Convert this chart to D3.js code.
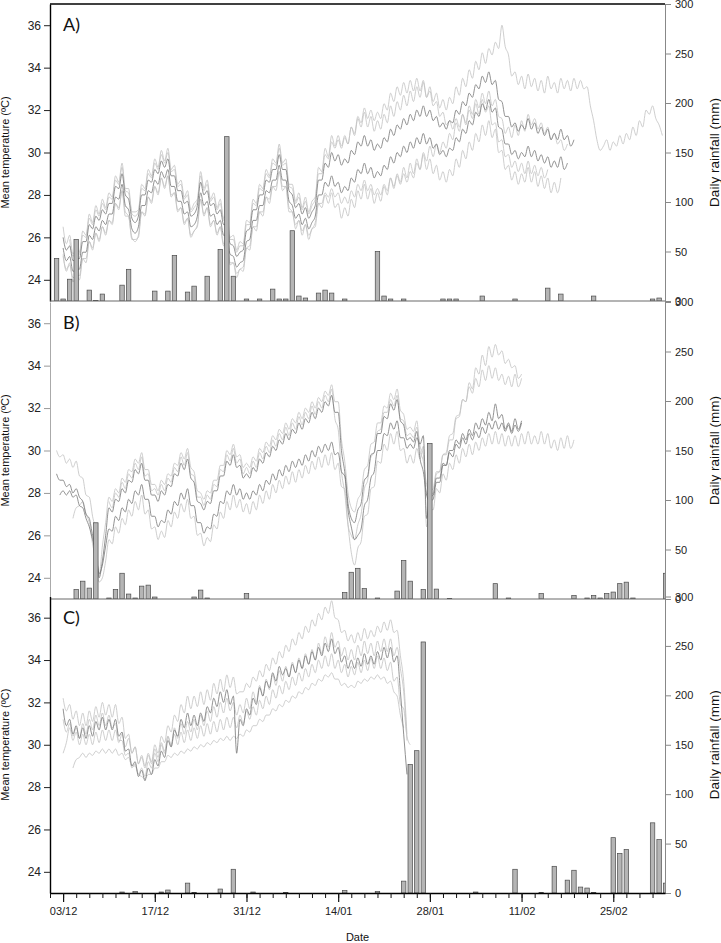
<!DOCTYPE html>
<html>
<head>
<meta charset="utf-8">
<script src="https://cdn.jsdelivr.net/npm/d3@7"></script>
<style>
  body { margin: 0; background: #fff; }
  svg { display: block; }
</style>
</head>
<body>
<div id="chart"></div>
<script>
// Mean temperature (deg C) traces, one value every half day, starting at the given day
// (day 0 = 01/12). Rainfall bars: day index + mm.

// ---- panel A ----
const tA1_start = 2;
const tA1 = [26.5,25.7, 26.1,25.2, 25.5,25.3, 26.3,26.1, 27.1,26.7, 27.5,27.1, 27.8,27.4, 28.1,27.9, 28.9,28.6, 29.5,28.3, 28.3,27.2, 27.2,27.3, 28.5,28.3, 29.2,28.9, 29.7,29.3, 30.1,29.6, 30.2,29.2, 29.4,28.5, 28.7,27.9, 28.2,27.3, 27.6,27.8, 29.1,28.3, 28.7,27.8, 28.1,27.4, 27.8,26.9, 27.1,26.0, 26.1,25.4, 25.8,25.7, 26.8,26.7, 27.8,27.6, 28.5,28.3, 29.2,28.9, 29.7,29.5, 30.4,29.5, 29.7,28.5, 28.5,27.7, 28.1,27.4, 27.9,27.2, 27.7,27.9, 29.3,29.1, 30.2,29.8, 30.8,30.3, 30.8,30.3, 30.8,30.4, 31.2,30.8, 31.6,31.2, 31.9,31.2, 31.7,31.0, 31.5,31.1, 31.8,31.4, 32.2,31.7, 32.4,32.0, 32.7,32.2, 32.9,32.4, 33.1,32.6, 33.3,32.6, 33.1,32.4, 32.8,32.1, 32.5,32.0, 32.6,32.3, 33.1,32.7, 33.5,33.1, 33.9,33.5, 34.3,33.9, 34.7,34.2, 34.9,34.6, 35.2,34.9, 36.0,35.0, 34.6,33.6, 33.8,33.2, 33.6,33.0, 33.7,33.1, 33.5,32.9, 33.4,32.8, 33.6,33.0, 33.3,32.8, 33.5,33.0, 33.4,32.9, 33.5,33.0, 33.4,33.0, 33.1,32.2, 31.5,30.6, 30.1,30.3, 30.6,30.1, 30.5,30.3, 30.8,30.4, 30.9,30.6, 31.2,30.8, 31.5,31.2, 32.0,31.8, 32.2,31.6, 31.3,30.8];
const tA2_start = 2;
const tA2 = [26.0,25.4, 25.6,24.9, 25.0,25.0, 25.8,25.8, 26.6,26.4, 27.0,26.8, 27.3,27.1, 27.6,27.6, 28.4,28.3, 29.0,28.0, 27.8,26.9, 26.7,27.0, 28.0,28.0, 28.7,28.6, 29.2,29.0, 29.6,29.3, 29.7,28.9, 28.9,28.2, 28.2,27.6, 27.7,27.0, 27.1,27.5, 28.6,28.0, 28.2,27.5, 27.6,27.1, 27.3,26.6, 26.6,25.7, 25.6,25.1, 25.3,25.4, 26.3,26.4, 27.3,27.3, 28.0,28.0, 28.7,28.6, 29.2,29.2, 29.9,29.2, 29.2,28.2, 28.0,27.4, 27.6,27.1, 27.4,26.9, 27.2,27.5, 28.7,28.7, 29.5,29.3, 30.0,29.6, 29.9,29.4, 29.7,29.5, 30.1,29.9, 30.5,30.3, 30.8,30.3, 30.6,30.1, 30.4,30.2, 30.7,30.5, 31.1,30.8, 31.3,31.1, 31.6,31.3, 31.8,31.5, 32.0,31.7, 32.2,31.7, 32.0,31.5, 31.7,31.2, 31.4,31.1, 31.5,31.4, 32.0,31.8, 32.4,32.2, 32.8,32.6, 33.2,33.0, 33.6,33.3, 33.8,33.2, 33.4,32.5, 32.4,31.7, 31.7,31.2, 31.4,31.0, 31.3,31.1, 31.6,31.1, 31.4,30.9, 31.2,30.8, 31.1,30.6, 30.9,30.6, 31.1,30.6, 30.8,30.3, 30.6];
const tA3_start = 2;
const tA3 = [25.5,24.9, 25.1,24.4, 24.5,24.5, 25.3,25.3, 26.1,25.9, 26.5,26.3, 26.8,26.6, 27.1,27.1, 27.9,27.8, 28.5,27.5, 27.3,26.4, 26.2,26.5, 27.5,27.5, 28.2,28.1, 28.7,28.5, 29.1,28.8, 29.2,28.4, 28.4,27.7, 27.7,27.1, 27.2,26.5, 26.6,27.0, 28.1,27.5, 27.7,27.0, 27.1,26.6, 26.8,26.1, 26.1,25.2, 25.1,24.6, 24.8,24.9, 25.8,25.9, 26.8,26.8, 27.5,27.5, 28.2,28.1, 28.7,28.7, 29.4,28.7, 28.7,27.7, 27.5,26.9, 27.1,26.6, 26.9,26.4, 26.7,27.0, 28.0,28.0, 28.6,28.4, 28.9,28.4, 28.6,28.1, 28.4,28.2, 28.8,28.6, 29.2,29.0, 29.5,29.0, 29.3,28.8, 29.1,28.9, 29.4,29.2, 29.8,29.5, 30.0,29.8, 30.3,30.0, 30.5,30.2, 30.7,30.4, 30.9,30.4, 30.7,30.2, 30.4,29.9, 30.1,29.8, 30.2,30.1, 30.7,30.5, 31.1,30.9, 31.5,31.3, 31.9,31.7, 32.3,32.0, 32.5,31.9, 32.1,31.2, 31.1,30.4, 30.4,29.9, 30.1,29.7, 30.0,29.8, 30.3,29.8, 30.1,29.6, 29.9,29.5, 29.8,29.3, 29.6,29.3, 29.8,29.2, 29.5];
const tA4_start = 2;
const tA4 = [25.2,24.4, 24.8,23.9, 24.2,24.0, 25.0,24.8, 25.8,25.4, 26.2,25.8, 26.5,26.1, 26.8,26.6, 27.6,27.3, 28.2,27.0, 27.0,25.9, 25.9,26.0, 27.2,27.0, 27.9,27.6, 28.4,28.0, 28.8,28.3, 28.9,27.9, 28.1,27.2, 27.4,26.6, 26.9,26.0, 26.3,26.5, 27.8,27.0, 27.4,26.5, 26.8,26.1, 26.5,25.6, 25.8,24.7, 24.8,24.1, 24.5,24.4, 25.5,25.4, 26.5,26.3, 27.2,27.0, 27.9,27.6, 28.4,28.2, 29.1,28.2, 28.4,27.2, 27.2,26.4, 26.8,26.1, 26.6,25.9, 26.4,26.5, 27.6,27.4, 28.0,27.6, 28.1,27.4, 27.6,26.9, 27.4,27.0, 27.8,27.4, 28.2,27.8, 28.5,27.8, 28.3,27.6, 28.1,27.7, 28.4,28.0, 28.8,28.3, 29.0,28.6, 29.3,28.8, 29.5,29.0, 29.7,29.2, 29.9,29.2, 29.7,29.0, 29.4,28.7, 29.1,28.6, 29.2,28.9, 29.7,29.3, 30.1,29.7, 30.5,30.1, 30.9,30.5, 31.3,30.8, 31.5,30.7, 31.1,30.0, 30.1,29.2, 29.4,28.7, 29.1,28.5, 29.0,28.6, 29.3,28.6, 29.1,28.4, 28.9,28.3, 28.8,28.1, 28.6,28.1, 28.8];
const tA5_start = 3;
const tA5 = [25.9,25.1, 25.3,25.2, 26.1,26.0, 26.9,26.6, 27.3,27.0, 27.6,27.3, 27.9,27.8, 28.7,28.5, 29.3,28.2, 28.1,27.1, 27.0,27.2, 28.3,28.2, 29.0,28.8, 29.5,29.2, 29.9,29.5, 30.0,29.1, 29.2,28.4, 28.5,27.8, 28.0,27.2, 27.4,27.7, 28.9,28.2, 28.5,27.7, 27.9,27.3, 27.6,26.8, 26.9,25.9, 25.9,25.3, 25.6,25.6, 26.6,26.6, 27.6,27.5, 28.3,28.2, 29.0,28.8, 29.5,29.4, 30.2,29.4, 29.5,28.4, 28.3,27.6, 27.9,27.3, 27.7,27.1, 27.5,27.8, 29.0,29.0, 29.9,29.7, 30.5,30.2, 30.6,30.2, 30.7,30.4, 31.2,30.9, 31.7,31.4, 32.1,31.6, 32.0,31.5, 31.9,31.6, 32.3,32.0, 32.8,32.4, 33.1,32.7, 33.3,32.8, 33.4,32.9, 33.5,32.9, 33.4,32.6, 32.9,32.2, 32.4,31.7, 31.9,31.3, 31.5,31.1, 31.6,31.2, 31.8,31.3, 32.0,31.6, 32.3,31.8, 32.5,31.9, 32.2,31.3, 31.4,30.5, 30.6,29.8, 29.9,29.3, 29.6,29.1, 29.5,29.0, 29.6,29.0, 29.4,28.9, 29.3,28.8, 29.2];
const tA6_start = 2;
const tA6 = [25.1,24.5, 24.7,24.1, 24.2,24.2, 25.0,25.0, 25.8,25.5, 26.2,25.9, 26.5,26.2, 26.8,26.7, 27.6,27.4, 28.2,27.2, 27.0,26.0, 25.8,26.1, 27.2,27.1, 27.9,27.7, 28.4,28.1, 28.8,28.4, 28.9,28.0, 28.1,27.3, 27.4,26.7, 26.9,26.1, 26.3,26.6, 27.8,27.1, 27.4,26.6, 26.8,26.2, 26.5,25.7, 25.8,24.8, 24.8,24.3, 24.5,24.6, 25.5,25.6, 26.5,26.5, 27.2,27.2, 27.9,27.8, 28.4,28.4, 29.1,28.4, 28.4,27.4, 27.2,26.6, 26.8,26.3, 26.6,26.1, 26.4,26.7, 27.6,27.6, 28.1,27.9, 28.3,27.9, 28.1,27.6, 27.9,27.6, 28.2,27.9, 28.5,28.2, 28.7,28.2, 28.5,28.0, 28.3,28.0, 28.5,28.2, 28.8,28.4, 28.9,28.5, 29.0,28.6, 29.1,28.8, 29.5,29.2, 30.0,29.6, 30.3,29.8, 30.4,30.0, 30.5,30.2, 30.9,30.6, 31.4,31.0, 31.8,31.4, 32.2,31.8, 32.5,32.1, 32.8,32.3, 32.9,32.2, 32.5,31.7, 31.6,30.9, 31.2,30.7, 31.3,30.8, 31.5,31.0, 31.8,31.3, 31.6,31.1, 31.4,30.9, 31.2,30.6, 30.9,30.4, 30.6,30.1, 30.4];
const rainA_day = [1,2,3,4,6,7,8,11,12,16,18,19,21,22,24,26,27,28,30,32,34,35,36,37,38,39,41,42,43,45,50,51,52,54,60,61,62,66,71,76,78,83,92,93];
const rainA_mm = [43,2,22,62,11,0.6,7,16,32,10,10,46,9,15,25,52,166,25,2,2,12,2,2,71,5,3,8,11,8,2,50,5,2,2,2,2,2,5,2,13,7,5,2,3];

// ---- panel B ----
const tB1_start = 1;
const tB1 = [30.0,29.7, 29.8,29.4, 29.6,29.2, 29.5,28.8, 28.7,27.9, 27.8,26.9, 26.1,24.1, 25.5,26.6, 27.8,27.6, 28.2,28.0, 28.7,28.5, 29.1,29.0, 29.6,29.4, 29.9,29.1, 29.1,28.4, 28.4,28.1, 28.6,28.4, 28.9,28.8, 29.4,29.3, 29.9,29.6, 30.1,29.2, 29.0,28.1, 28.0,27.7, 28.1,28.0, 28.6,28.6, 29.3,29.3, 30.0,29.8, 30.3,29.7, 29.8,29.2, 29.4,29.2, 29.7,29.5, 30.1,29.9, 30.4,30.2, 30.7,30.5, 31.0,30.8, 31.3,31.0, 31.5,31.3, 31.8,31.5, 32.0,31.8, 32.3,32.0, 32.5,32.3, 32.8,32.6, 33.1,32.3, 32.3,30.5, 29.5,28.0, 27.3,27.1, 27.7,28.0, 29.1,29.3, 30.3,30.4, 31.3,31.3, 32.1,32.0, 32.7,32.4, 32.9,31.9, 31.7,31.0, 31.1,30.9, 31.4,30.0, 29.5,28.4, 28.1,28.2, 29.0,29.0, 29.8,29.8, 30.5,30.5, 31.5,31.6, 32.4,32.3, 33.2,32.9, 33.9,33.6, 34.5,34.0, 34.9,34.4, 35.0,34.5, 34.7,34.1, 34.3,33.9, 34.0,33.4, 33.6];
const tB2_start = 1;
const tB2 = [28.9,28.6, 28.6,28.3, 28.4,28.0, 28.2,27.8, 27.6,27.0, 26.8,26.0, 25.4,24.0, 24.8,26.0, 27.3,27.1, 27.7,27.6, 28.2,28.0, 28.6,28.5, 29.1,28.9, 29.4,28.6, 28.6,27.9, 27.9,27.6, 28.1,27.9, 28.4,28.3, 28.9,28.8, 29.4,29.1, 29.6,28.7, 28.5,27.6, 27.5,27.2, 27.6,27.5, 28.1,28.1, 28.8,28.8, 29.5,29.3, 29.8,29.2, 29.3,28.7, 28.9,28.7, 29.2,29.0, 29.6,29.4, 29.9,29.7, 30.2,30.0, 30.5,30.3, 30.8,30.5, 31.0,30.8, 31.3,31.0, 31.5,31.3, 31.8,31.5, 32.0,31.8, 32.3,32.1, 32.6,31.8, 31.8,30.0, 29.0,27.5, 26.8,26.6, 27.2,27.5, 28.6,28.8, 29.8,29.9, 30.8,30.8, 31.6,31.5, 32.2,31.9, 32.4,31.4, 31.2,30.5, 30.6,30.4, 30.9,29.6, 29.0,27.9, 27.6,27.7, 28.5,28.5, 29.3,29.3, 30.0,30.0, 30.5,30.3, 30.8,30.5, 31.0,30.7, 31.3,31.0, 31.5,31.2, 31.8,31.4, 32.2,31.5, 31.7,31.0, 31.3,30.9, 31.5,31.0, 31.4];
const tB3_start = 1.5;
const tB3 = [27.9, 28.1,27.9, 28.1,27.8, 27.9,27.4, 27.3,26.8, 26.4,25.8, 25.2,24.2, 24.6,25.5, 26.3,26.2, 26.9,26.7, 27.3,27.1, 27.7,27.5, 28.1,27.9, 28.4,27.7, 27.7,26.9, 26.9,26.4, 26.7,26.6, 27.2,27.0, 27.6,27.4, 28.0,27.7, 28.2,27.4, 27.4,26.6, 26.6,26.1, 26.4,26.3, 27.0,26.9, 27.6,27.5, 28.1,27.9, 28.4,27.9, 28.2,27.7, 28.0,27.7, 28.1,27.9, 28.4,28.1, 28.6,28.4, 28.9,28.6, 29.1,28.8, 29.3,29.0, 29.5,29.2, 29.6,29.3, 29.8,29.5, 30.0,29.7, 30.2,29.9, 30.3,30.0, 30.4,29.8, 29.9,29.0, 28.8,27.2, 26.4,25.8, 26.0,26.3, 27.4,27.7, 28.7,29.0, 30.0,30.0, 30.8,30.7, 31.3,31.0, 31.4,30.6, 30.6,30.1, 30.3,30.1, 30.6,30.3, 30.7,26.8, 27.8,27.9, 28.7,28.7, 29.4,29.3, 29.9,29.7, 30.3,30.1, 30.6,30.3, 30.8,30.5, 30.9,30.6, 31.1,30.8, 31.3,31.0, 31.4,31.0, 31.3,30.9, 31.2,30.8, 31.2,30.9, 31.3];
const tB4_start = 3.5;
const tB4 = [26.8, 27.3,27.4, 27.6,27.0, 26.6,25.6, 24.8,23.8, 24.0,24.8, 25.8,25.6, 26.4,26.1, 26.8,26.5, 27.2,26.9, 27.6,27.2, 27.9,27.0, 27.2,26.3, 26.4,25.8, 26.2,25.9, 26.7,26.4, 27.1,26.8, 27.5,27.1, 27.7,26.8, 26.9,26.0, 26.1,25.5, 25.9,25.7, 26.5,26.3, 27.1,26.8, 27.6,27.2, 27.9,27.3, 27.7,27.1, 27.5,27.0, 27.6,27.2, 27.9,27.5, 28.1,27.7, 28.4,28.0, 28.6,28.2, 28.8,28.4, 29.0,28.5, 29.1,28.7, 29.3,28.9, 29.5,29.1, 29.7,29.2, 29.8,29.3, 29.9,29.1, 29.4,28.3, 28.2,26.5, 25.2,24.6, 25.4,25.7, 26.9,27.0, 28.2,28.3, 29.5,29.4, 30.3,30.0, 30.8,30.3, 30.9,30.0, 30.1,29.4, 29.8,29.4, 30.1,29.6, 30.2,26.4, 27.3,27.2, 28.2,28.0, 28.9,28.6, 29.4,29.1, 29.8,29.4, 30.1,29.7, 30.3,29.8, 30.4,30.0, 30.6,30.2, 30.8,30.3, 30.9,30.3, 30.8,30.2, 30.7,30.2, 30.7,30.2, 30.8,30.3, 30.9,30.3, 30.7,30.3, 30.9,30.3, 30.8,30.1, 30.5,30.0, 30.6,30.1, 30.7,30.1, 30.5];
const tB5_start = 9;
const tB5 = [27.6,27.3, 28.0,27.8, 28.5,28.2, 28.9,28.7, 29.4,29.1, 29.7,28.8, 28.9,28.1, 28.2,27.9, 28.4,28.1, 28.7,28.5, 29.2,29.0, 29.7,29.3, 29.9,28.9, 28.8,27.8, 27.8,27.4, 27.9,27.7, 28.4,28.3, 29.1,29.0, 29.8,29.5, 30.1,29.4, 29.6,28.9, 29.2,28.9, 29.5,29.2, 29.9,29.6, 30.2,29.9, 30.5,30.2, 30.8,30.5, 31.1,30.7, 31.3,31.0, 31.6,31.2, 31.8,31.5, 32.1,31.7, 32.3,32.0, 32.6,32.3, 32.9,31.5, 31.0,29.0, 28.0,26.5, 26.0,25.8, 26.5,27.0, 28.2,28.6, 29.7,29.9, 30.9,31.0, 31.8,31.8, 32.4,32.1, 32.6,31.5, 31.4,30.7, 30.8,30.6, 31.1,30.2, 29.8,28.0, 27.9,28.0, 28.9,29.0, 29.8,29.9, 30.7,30.8, 31.6,31.7, 32.4,32.3, 33.0,32.7, 33.4,33.0, 33.8,33.3, 34.0,33.4, 33.9,33.3, 33.6,33.1, 33.5,33.0, 33.6,33.0, 33.4];
const rainB_day = [4,5,6,7,9,10,11,12,13,14,15,16,22,23,24,30,45,46,47,48,50,53,54,55,57,58,59,61,68,70,75,80,82,83,84,85,86,87,88,89,94];
const rainB_mm = [9.5,18,11,77,1,9.5,26,5,1,13,14,2,2,9,1,5.5,6.5,27,31,10.5,1,8,39,18,9.5,157,10,0.5,15.5,1,5.5,3.5,1,3.5,1,5.5,7,15.5,17,1,26];

// ---- panel C ----
const tC1_start = 2;
const tC1 = [32.2,31.6, 31.9,31.2, 31.6,30.9, 31.5,30.9, 31.6,31.1, 31.8,31.3, 32.0,31.4, 31.9,31.3, 31.9,31.0, 31.3,30.3, 30.5,29.6, 29.9,29.1, 29.5,29.0, 29.6,29.2, 30.0,29.6, 30.4,30.1, 30.9,30.6, 31.4,31.1, 31.9,31.5, 32.3,31.7, 32.3,31.8, 32.5,31.9, 32.6,32.1, 32.9,32.4, 33.1,32.5, 33.3,32.7, 33.2,32.4, 32.5,32.5, 32.9,32.7, 33.2,33.0, 33.5,33.2, 33.8,33.5, 34.1,33.8, 34.4,34.1, 34.7,34.4, 35.0,34.7, 35.3,35.0, 35.6,35.3, 35.9,35.6, 36.2,35.9, 36.5,36.2, 36.8,36.0, 35.9,35.3, 35.4,34.9, 35.2,34.8, 35.3,34.9, 35.5,35.0, 35.4,35.1, 35.6,35.3, 35.8,35.4, 35.9,35.3, 35.4,34.2, 33.0,30.5];
const tC2_start = 2;
const tC2 = [31.7,30.9, 31.2,30.5, 30.9,30.3, 30.8,30.3, 30.9,30.4, 31.1,30.7, 31.3,30.7, 31.2,30.7, 31.2,30.4, 30.6,29.7, 29.8,29.0, 29.2,28.5, 28.8,28.3, 28.9,28.6, 29.3,29.0, 29.7,29.4, 30.2,29.9, 30.7,30.4, 31.2,30.8, 31.5,30.9, 31.4,30.9, 31.5,31.1, 31.8,31.5, 32.2,31.8, 32.5,32.0, 32.6,31.9, 32.3,29.6, 31.2,30.9, 31.7,31.4, 32.2,31.9, 32.7,32.3, 33.0,32.7, 33.4,33.0, 33.7,33.3, 33.6,33.2, 33.8,33.4, 34.0,33.6, 34.2,33.8, 34.4,34.0, 34.6,34.2, 34.8,34.4, 35.0,34.3, 34.6,33.9, 34.2,33.6, 34.0,33.6, 34.1,33.7, 34.3,33.8, 34.2,33.8, 34.4,34.0, 34.6,34.1, 34.6,33.9, 34.2,32.5, 30.5,28.6];
const tC3_start = 2;
const tC3 = [29.6,30.1, 30.8,30.2, 30.6,30.0, 30.5,30.0, 30.5,30.0, 30.6,30.1, 30.7,30.2, 30.7,30.2, 30.7,30.1, 30.5,29.9, 30.3,29.6, 29.9,29.1, 29.4,28.9, 29.5,29.1, 29.8,29.4, 30.1,29.7, 30.4,29.9, 30.5,30.0, 30.6,30.1, 30.7,30.2, 30.8,30.3, 30.9,30.4, 31.0,30.5, 31.1,30.6, 31.2,30.7, 31.3,30.8, 31.3,30.8, 31.4,31.0, 31.6,31.2, 31.8,31.4, 32.1,31.7, 32.3,31.9, 32.6,32.2, 32.8,32.4, 33.0,32.6, 33.2,32.8, 33.4,33.0, 33.6,33.2, 33.8,33.4, 34.0,33.6, 34.2,33.7, 34.3,33.6, 34.0,33.4, 33.8,33.2, 33.7,33.3, 33.9,33.4, 34.0,33.5, 34.1,33.6, 34.2,33.6, 34.1,33.5, 33.9,33.0, 33.2,31.9, 31.7,30.4, 30.0];
const tC4_start = 3.5;
const tC4 = [28.9, 29.3,29.4, 29.6,29.4, 29.6,29.5, 29.7,29.6, 29.8,29.6, 29.8,29.6, 29.8,29.5, 29.6,29.3, 29.4,29.0, 29.0,28.6, 28.5,28.4, 28.6,28.6, 28.9,28.9, 29.2,29.2, 29.5,29.4, 29.6,29.5, 29.7,29.6, 29.8,29.7, 29.9,29.8, 30.0,29.9, 30.1,30.0, 30.2,30.1, 30.3,30.2, 30.4,30.2, 30.4,30.3, 30.5,30.4, 30.7,30.6, 30.9,30.9, 31.2,31.1, 31.4,31.4, 31.7,31.6, 31.9,31.8, 32.1,32.0, 32.3,32.2, 32.5,32.4, 32.7,32.6, 32.9,32.8, 33.1,33.0, 33.3,33.2, 33.4,33.1, 33.1,32.8, 32.9,32.7, 32.8,32.7, 33.0,32.9, 33.1,33.0, 33.2,33.1, 33.3,33.1, 33.2,32.9, 33.0,32.5, 32.3,31.4, 30.8];
const tC5_start = 2;
const tC5 = [31.2,30.6, 31.0,30.4, 30.8,30.3, 31.0,30.5, 31.2,30.7, 31.4,30.9, 31.5,30.9, 31.4,30.8, 31.0,30.2, 30.2,29.5, 29.6,28.9, 29.1,28.6, 28.9,28.5, 29.2,28.9, 29.6,29.2, 30.0,29.6, 30.4,30.0, 30.8,30.3, 31.0,30.5, 31.1,30.6, 31.2,30.7, 31.4,30.9, 31.6,31.1, 31.8,31.3, 32.0,31.5, 32.2,31.6, 32.0,31.4, 31.9,31.5, 32.2,31.7, 32.5,32.0, 32.8,32.3, 33.1,32.6, 33.3,32.8, 33.5,33.0, 33.7,33.2, 33.9,33.4, 34.1,33.6, 34.3,33.8, 34.5,34.0, 34.8,34.3, 35.1,34.6, 35.3,34.6, 34.9,34.2, 34.6,34.0, 34.5,34.0, 34.7,34.2, 34.9,34.3, 34.8,34.2, 34.9,34.4, 35.0,34.4, 35.0,34.2, 34.6,33.6, 32.5,30.2];
const rainC_day = [11,13,17,18,21,22,26,28,31,36,45,50,54,55,56,57,65,71,75,77,79,80,81,82,83,86,87,88,92,93,94];
const rainC_mm = [1,1.5,1,3,10,0.5,4,24,1,0.5,2.5,1.5,12,130,144,254,1,24,0.5,27,13,23,6,5,0.5,56,40,44,71,54,10];

const tempTicks = [24, 26, 28, 30, 32, 34, 36];
const rainTicks = [0, 50, 100, 150, 200, 250, 300];

// ---- layout ----
const W = 721, H = 943;
const left = 50, right = 665;
const day0 = new Date(2014, 11, 1);
const toDate = d => new Date(day0.getTime() + d * 864e5);

const x = d3.scaleTime().domain([toDate(0), toDate(93.9)]).range([left, right]);

const svg = d3.select("#chart").append("svg")
  .attr("width", W).attr("height", H)
  .style("font-family", "'Liberation Sans', Arial, sans-serif");

const panels = [
  { label: "A)", top: 4, bottom: 301, frame: "#000",
    lines: [[tA1_start, tA1, 0], [tA4_start, tA4, 0], [tA5_start, tA5, 0], [tA6_start, tA6, 0],
            [tA2_start, tA2, 1], [tA3_start, tA3, 1]],
    rainDay: rainA_day, rainMm: rainA_mm },
  { label: "B)", top: 302, bottom: 599, frame: "#aaa",
    lines: [[tB1_start, tB1, 0], [tB4_start, tB4, 0], [tB5_start, tB5, 0],
            [tB2_start, tB2, 1], [tB3_start, tB3, 1]],
    rainDay: rainB_day, rainMm: rainB_mm },
  { label: "C)", top: 596.5, bottom: 893, frame: "#000",
    lines: [[tC1_start, tC1, 0], [tC3_start, tC3, 0], [tC4_start, tC4, 0], [tC5_start, tC5, 0],
            [tC2_start, tC2, 1]],
    rainDay: rainC_day, rainMm: rainC_mm }
];

const barW = x(toDate(0.68)) - x(toDate(0));

panels.forEach((p, k) => {
  const yT = d3.scaleLinear().domain([23, 37]).range([p.bottom, p.top]);
  const yR = d3.scaleLinear().domain([0, 300]).range([p.bottom, p.top]);
  const g = svg.append("g");

  g.append("clipPath").attr("id", "clip" + k)
    .append("rect")
    .attr("x", left).attr("y", p.top)
    .attr("width", right - left).attr("height", p.bottom - p.top);

  const plot = g.append("g").attr("clip-path", `url(#clip${k})`);

  // temperature traces
  const line = d3.line().curve(d3.curveMonotoneX).x(d => x(d.t)).y(d => yT(d.v));
  p.lines.forEach(([start, vals, dark]) => {
    plot.append("path")
      .datum(vals.map((v, i) => ({ t: toDate(start + i * 0.5), v })))
      .attr("fill", "none")
      .attr("stroke", dark ? "#767676" : "#c2c2c2")
      .attr("stroke-width", 0.8)
      .attr("d", line);
  });

  // rainfall bars
  plot.selectAll("rect.bar")
    .data(p.rainDay.map((d, i) => ({ t: toDate(d), v: p.rainMm[i] })))
    .join("rect")
    .attr("class", "bar")
    .attr("x", d => x(d.t) - barW / 2)
    .attr("y", d => yR(d.v))
    .attr("width", barW)
    .attr("height", d => yR(0) - yR(d.v))
    .attr("fill", "#b5b5b5")
    .attr("stroke", "#4a4a4a")
    .attr("stroke-width", 0.7);

  // left axis
  g.append("g")
    .attr("transform", `translate(${left},0)`)
    .call(d3.axisLeft(yT).tickValues(tempTicks).tickSize(6).tickSizeOuter(0).tickPadding(3))
    .call(a => {
      a.attr("font-family", null).attr("font-size", 12);
      a.select(".domain").attr("stroke", p.frame).attr("stroke-width", p.frame === "#000" ? 1.4 : 1);
      a.selectAll(".tick line").attr("stroke", p.frame === "#000" ? "#222" : "#999");
      a.selectAll(".tick text").attr("fill", "#222");
    });

  // right axis
  g.append("g")
    .attr("transform", `translate(${right},0)`)
    .call(d3.axisRight(yR).tickValues(rainTicks).tickSize(6).tickSizeOuter(0).tickPadding(4))
    .call(a => {
      a.attr("font-family", null).attr("font-size", 11);
      a.select(".domain").attr("stroke", "#888");
      a.selectAll(".tick line").attr("stroke", "#888");
      a.selectAll(".tick text").attr("fill", "#222");
    });

  if (k === 0) {
    g.append("line").attr("x1", left).attr("x2", right)
      .attr("y1", p.top).attr("y2", p.top)
      .attr("stroke", "#000").attr("stroke-width", 1.4);
  }
  if (k < 2) {
    g.append("line").attr("x1", left).attr("x2", right)
      .attr("y1", p.bottom).attr("y2", p.bottom)
      .attr("stroke", "#6a6a6a").attr("stroke-width", 1.2);
  }

  // titles
  const mid = (p.top + p.bottom) / 2;
  g.append("text")
    .attr("transform", `translate(8.5,${mid}) rotate(-90)`)
    .attr("text-anchor", "middle")
    .attr("font-size", 11).attr("fill", "#111")
    .text("Mean temperature (ºC)");
  g.append("text")
    .attr("transform", `translate(719,${mid}) rotate(-90)`)
    .attr("text-anchor", "middle")
    .attr("font-size", 13.5).attr("fill", "#111")
    .text("Daily rainfall (mm)");
  g.append("text")
    .attr("x", 63).attr("y", p.top + 27)
    .attr("font-family", "Lato, 'Open Sans', sans-serif")
    .attr("font-size", 18).attr("fill", "#111")
    .text(p.label);
});

// date axis under panel C
const minorTicks = d3.range(0, 94, 2).map(toDate);
const majorTicks = d3.range(2, 94, 14).map(toDate);
const yAxis = panels[2].bottom;

svg.append("g")
  .attr("transform", `translate(0,${yAxis})`)
  .call(d3.axisBottom(x).tickValues(minorTicks).tickSize(5).tickSizeOuter(0).tickFormat(""))
  .call(a => {
    a.select(".domain").attr("stroke", "#000").attr("stroke-width", 1.4);
    a.selectAll(".tick line").attr("stroke", "#111");
  });

svg.append("g")
  .attr("transform", `translate(0,${yAxis})`)
  .call(d3.axisBottom(x).tickValues(majorTicks).tickSize(9).tickSizeOuter(0).tickPadding(5)
    .tickFormat(d3.timeFormat("%d/%m")))
  .call(a => {
    a.attr("font-family", null).attr("font-size", 11);
    a.select(".domain").remove();
    a.selectAll(".tick line").attr("stroke", "#111").attr("stroke-width", 1.2);
    a.selectAll(".tick text").attr("fill", "#222");
  });

svg.append("text")
  .attr("x", (left + right) / 2).attr("y", 941)
  .attr("text-anchor", "middle")
  .attr("font-size", 11).attr("fill", "#111")
  .text("Date");
</script>
</body>
</html>
